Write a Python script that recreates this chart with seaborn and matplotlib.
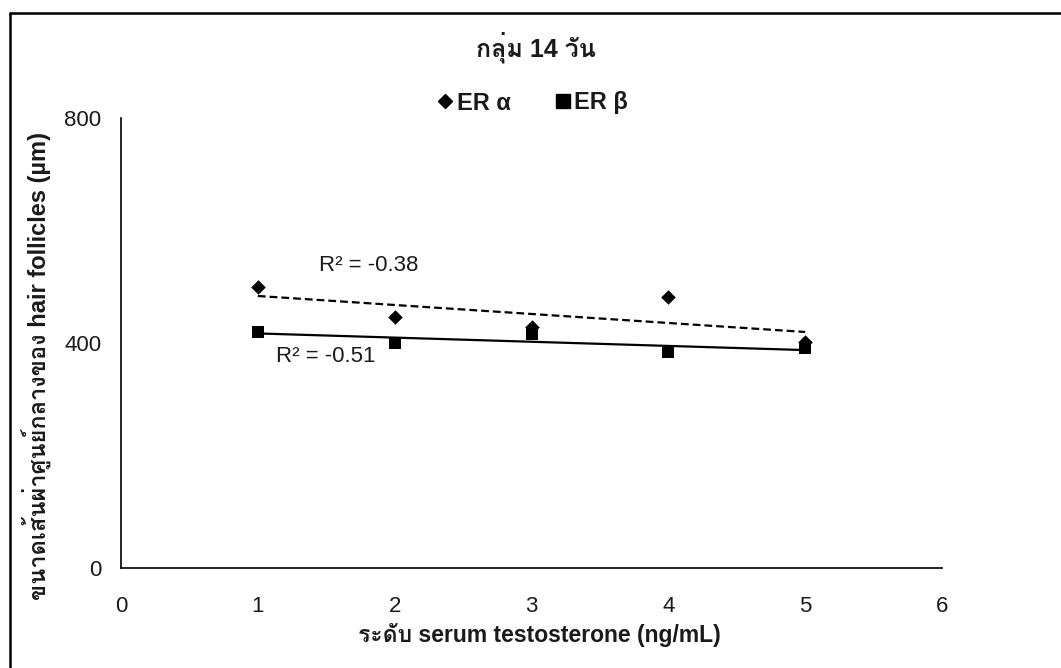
import numpy as np
import pandas as pd
import matplotlib
matplotlib.use("Agg")
import matplotlib.pyplot as plt
from matplotlib import font_manager
from matplotlib.ft2font import FT2Font
from matplotlib.lines import Line2D
import seaborn as sns

# Data
testosterone = [1, 2, 3, 4, 5]
er_alpha = [500, 446, 428, 482, 402]
er_beta = [420, 400, 416, 384, 391]
series_names = ["ER α", "ER β"]
r2_labels = ["R² = -0.38", "R² = -0.51"]
x_ticks = [0, 1, 2, 3, 4, 5, 6]
y_ticks = [0, 400, 800]

title = "กลุ่ม 14 วัน"
x_label = "ระดับ serum testosterone (ng/mL)"
y_label = "ขนาดเส้นผ่าศูนย์กลางของ hair follicles (µm)"

sns.set_theme(style="white")

# Find an installed family that can draw Thai script
thai_family = None
for f in font_manager.fontManager.ttflist:
    try:
        if ord("ก") in FT2Font(f.fname).get_charmap():
            thai_family = f.name
            break
    except Exception:
        pass
families = ["Liberation Sans"] + ([thai_family] if thai_family else []) + ["DejaVu Sans"]
plt.rcParams["font.family"] = families

TXT = "#1a1a1a"

fig = plt.figure(figsize=(10.61, 6.68), dpi=100)
ax = fig.add_axes([121 / 1061, 1 - 568 / 668, (942 - 121) / 1061, (568 - 118) / 668])

# Linear trend lines for each receptor
sns.regplot(x=testosterone, y=er_alpha, ax=ax, ci=None, scatter=False,
            line_kws=dict(color="black", lw=1.6, ls=(0, (3.5, 1.8))))
sns.regplot(x=testosterone, y=er_beta, ax=ax, ci=None, scatter=False,
            line_kws=dict(color="black", lw=1.6))

sns.scatterplot(x=testosterone, y=er_beta, marker="s", s=85, color="black",
                linewidth=0, ax=ax, zorder=3)
sns.scatterplot(x=testosterone, y=er_alpha, marker="D", s=55, color="black",
                linewidth=0, ax=ax, zorder=4)

ax.set_xlim(0, 6)
ax.set_ylim(0, 800)
ax.set_xticks(x_ticks)
ax.set_yticks(y_ticks)
ax.tick_params(axis="y", which="major", direction="out", length=7, width=1,
               color="black", labelsize=16, labelcolor=TXT, pad=7)
ax.tick_params(axis="x", length=0, labelsize=16, labelcolor=TXT, pad=20)
for s in ["top", "right"]:
    ax.spines[s].set_visible(False)
for s in ["left", "bottom"]:
    ax.spines[s].set_color("black")
    ax.spines[s].set_linewidth(1.2)
ax.set_xlabel("")
ax.set_ylabel("")
ax.grid(False)

ax.text(1.45, 537, r2_labels[0], fontsize=16, color=TXT, va="center", ha="left")
ax.text(1.13, 376, r2_labels[1], fontsize=16, color=TXT, va="center", ha="left")

fig.text(536 / 1061, 1 - 47 / 668, title, ha="center", va="center",
         fontsize=18, fontweight="bold", color=TXT)
fig.text(539 / 1061, 1 - 635 / 668, x_label, ha="center", va="center",
         fontsize=16.5, fontweight="bold", color=TXT)
fig.text(37 / 1061, 1 - 366 / 668, y_label, ha="center", va="center",
         rotation=90, fontsize=17, fontweight="bold", color=TXT)

handles = [Line2D([], [], ls="none", marker="D", ms=7.5, color="black"),
           Line2D([], [], ls="none", marker="s", ms=10, color="black")]
leg = fig.legend(handles, series_names, loc="center", ncol=2,
                 bbox_to_anchor=(533 / 1061, 1 - 103 / 668), frameon=False,
                 handlelength=0.6, handletextpad=0.2, columnspacing=1.9,
                 prop=dict(weight="bold", size=17))
for t in leg.get_texts():
    t.set_color(TXT)

# Outer frame lines along the left and top edges
fig.add_artist(Line2D([10 / 1061, 10 / 1061], [0, 1 - 13 / 668], transform=fig.transFigure,
                      color="black", lw=1.8))
fig.add_artist(Line2D([10 / 1061, 1], [1 - 13 / 668, 1 - 13 / 668], transform=fig.transFigure,
                      color="black", lw=1.8))

fig.savefig("out.png", dpi=100, facecolor="white")
